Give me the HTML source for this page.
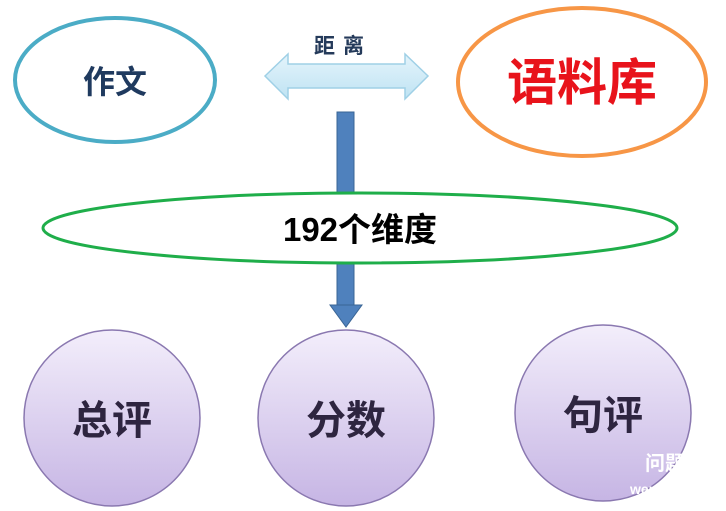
<!DOCTYPE html>
<html><head><meta charset="utf-8"><style>
html,body{margin:0;padding:0;background:#fff;width:726px;height:511px;overflow:hidden}
text{font-family:"Liberation Sans","Noto Sans CJK SC",sans-serif;font-weight:bold}
</style></head><body>
<svg width="726" height="511" viewBox="0 0 726 511">
<defs>
<linearGradient id="g" x1="0" y1="0" x2="0" y2="1"><stop offset="0" stop-color="#f3eefb"/><stop offset="1" stop-color="#c6b5e4"/></linearGradient>
<linearGradient id="a" x1="0" y1="0" x2="0" y2="1"><stop offset="0" stop-color="#e4f4fb"/><stop offset="1" stop-color="#bfe3f3"/></linearGradient>
</defs>
<ellipse cx="115" cy="80" rx="100" ry="62" fill="#fff" stroke="#4bacc6" stroke-width="4"/>
<text x="115" y="93" font-size="32" fill="#1f3a5f" text-anchor="middle">作文</text>
<ellipse cx="582" cy="82" rx="124" ry="74" fill="#fff" stroke="#f79646" stroke-width="4"/>
<text x="582" y="100" font-size="50" fill="#e8131b" text-anchor="middle">语料库</text>
<polygon points="265,76 288,54 288,64 405,64 405,54 428,76 405,99 405,88 288,88 288,99" fill="url(#a)" stroke="#9fd0e6" stroke-width="1.5"/>
<text x="343" y="53" font-size="21" fill="#243a5a" text-anchor="middle" letter-spacing="8">距离</text>
<rect x="337" y="112" width="17" height="194" fill="#4f81bd" stroke="#3a6595"/>
<ellipse cx="360" cy="228" rx="317" ry="35" fill="#fff" stroke="#1fae4a" stroke-width="3"/>
<text x="360" y="241" font-size="33" fill="#000" text-anchor="middle">192个维度</text>
<polygon points="330,305 362,305 346,327" fill="#4f81bd" stroke="#3a6595"/>
<circle cx="112" cy="418" r="88" fill="url(#g)" stroke="#8a78b0" stroke-width="1.5"/>
<text x="112" y="434" font-size="40" fill="#2e2540" text-anchor="middle">总评</text>
<circle cx="346" cy="418" r="88" fill="url(#g)" stroke="#8a78b0" stroke-width="1.5"/>
<text x="346" y="434" font-size="40" fill="#2e2540" text-anchor="middle">分数</text>
<circle cx="603" cy="413" r="88" fill="url(#g)" stroke="#8a78b0" stroke-width="1.5"/>
<text x="603" y="429" font-size="40" fill="#2e2540" text-anchor="middle">句评</text>
<text x="645" y="470" font-size="20" fill="#fff" font-weight="normal">问题</text>
<text x="630" y="494" font-size="14" fill="#fff">wen</text>
</svg>
</body></html>
